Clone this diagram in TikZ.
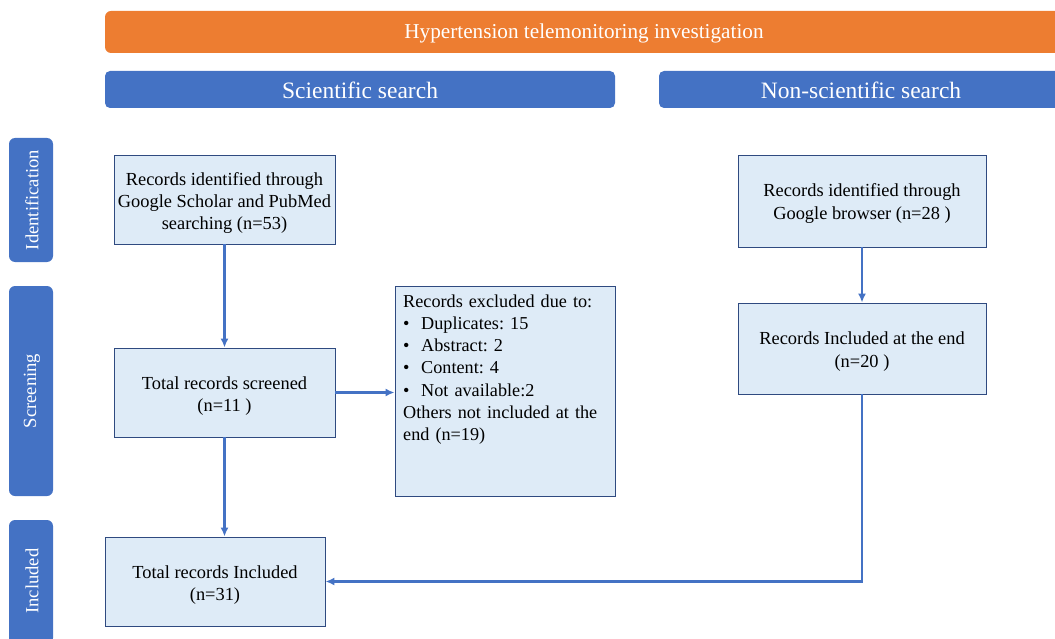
\documentclass[tikz,border=0pt]{standalone}
\usepackage{fontspec}
\setmainfont{Liberation Serif}
\frenchspacing
\usetikzlibrary{arrows.meta}
\definecolor{orangebar}{HTML}{ED7D31}
\definecolor{bluebar}{HTML}{4472C4}
\definecolor{boxfill}{HTML}{DEEBF7}
\definecolor{boxline}{HTML}{2F4A80}
\definecolor{flow}{HTML}{4472C4}
\begin{document}
\begin{tikzpicture}[x=1pt,y=-1pt,
  headbar/.style={fill=bluebar,draw=none,rounded corners=5pt},
  headtext/.style={text=white,font=\fontsize{23.5}{26}\selectfont},
  sidebar/.style={fill=bluebar,draw=none,rounded corners=6pt},
  sidetext/.style={text=white,rotate=90,font=\fontsize{18.6}{22}\selectfont},
  recbox/.style={draw=boxline,line width=0.9pt,fill=boxfill,inner sep=0pt},
  boxtext/.style={align=center,inner sep=0pt,font=\fontsize{18.4}{22.4}\selectfont},
  flowarrow/.style={draw=flow,line width=2.2pt,-{Latex[length=9pt,width=8pt]}}]
  \clip (0,0) rectangle (1055,639);

  % top banners
  \fill[orangebar,rounded corners=6pt] (105,11) rectangle (1063,53);
  \node[text=white,font=\fontsize{21.2}{24}\selectfont] (title) at (584,33) {Hypertension telemonitoring investigation};
  \fill[headbar] (105,71) rectangle (615,108);
  \node[headtext] (sci) at (360,90) {Scientific search};
  \fill[headbar] (659,71) rectangle (1063,108);
  \node[headtext] (nonsci) at (861,90) {Non-scientific search};

  % phase labels on the left
  \fill[sidebar] (9,138) rectangle (53,262);
  \node[sidetext] (ident) at (32,200) {Identification};
  \fill[sidebar] (9,286) rectangle (53,496);
  \node[sidetext] (screen) at (32,391) {Screening};
  \fill[sidebar] (9,520) rectangle (53,644);
  \node[sidetext] (incl) at (32,581) {Included};

  % scientific branch
  \node[recbox,minimum width=221pt,minimum height=89pt] (found) at (224.5,199.5) {};
  \node[boxtext] (foundtext) at ([yshift=-3.5pt]found.center)
    {Records identified through\\Google Scholar and PubMed\\searching (n=53)};
  \node[recbox,minimum width=221pt,minimum height=89pt] (screened) at (224.5,392.5) {};
  \node[boxtext] (screenedtext) at ([yshift=-3.5pt]screened.center)
    {Total records screened\\(n=11 )};
  \node[recbox,minimum width=220pt,minimum height=210pt] (excluded) at (505,391) {};
  \node[anchor=north west,inner sep=0pt,text width=210pt,align=left,
    font=\fontsize{18.2}{22.2}\selectfont] (exctext) at (403,294.5)
    {Records excluded due to:\\
     \makebox[18pt][l]{\textbullet}Duplicates: 15\\
     \makebox[18pt][l]{\textbullet}Abstract: 2\\
     \makebox[18pt][l]{\textbullet}Content: 4\\
     \makebox[18pt][l]{\textbullet}Not available:2\\
     Others not included at the\\
     end (n=19)};
  \node[recbox,minimum width=220pt,minimum height=89pt] (total) at (215,581.5) {};
  \node[boxtext] (totaltext) at ([yshift=-3.5pt]total.center)
    {Total records Included\\(n=31)};

  % non-scientific branch
  \node[recbox,minimum width=248pt,minimum height=92pt] (google) at (862,201) {};
  \node[boxtext] (googletext) at ([yshift=-2.5pt]google.center)
    {Records identified through\\Google browser (n=28 )};
  \node[recbox,minimum width=248pt,minimum height=91pt] (kept) at (862,348.5) {};
  \node[boxtext] (kepttext) at ([yshift=-3pt]kept.center)
    {Records Included at the end\\(n=20 )};

  % connectors
  \draw[flowarrow] (found.south) -- (screened.north);
  \draw[flowarrow] (screened.east) -- (excluded.west |- screened.east);
  \draw[flowarrow] (screened.south) -- (total.north -| screened.south);
  \draw[flowarrow] (google.south) -- (kept.north);
  \draw[flowarrow] (kept.south) |- (total.east);
\end{tikzpicture}
\end{document}
